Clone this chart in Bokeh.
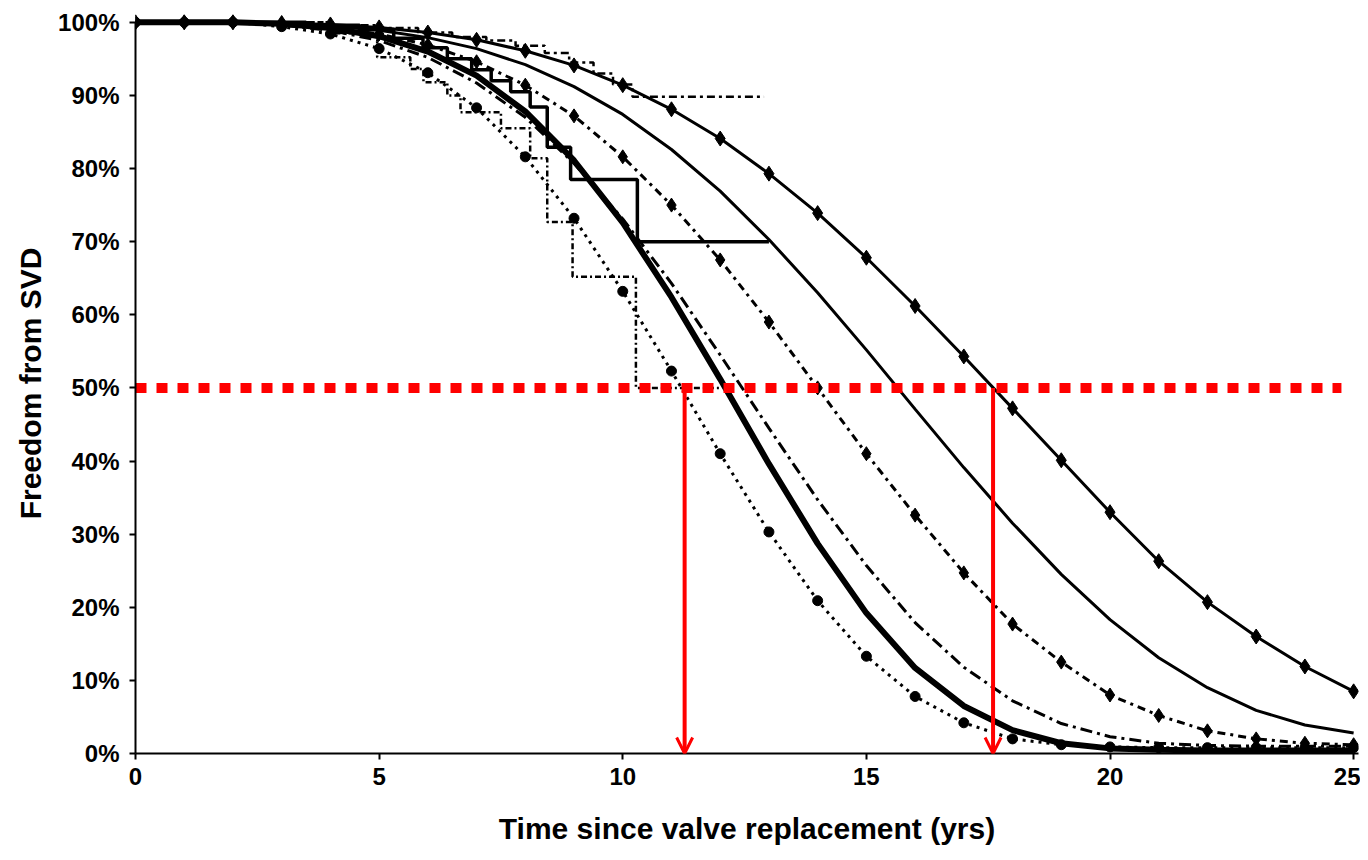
from bokeh.plotting import figure
from bokeh.models import Range1d, FixedTicker, PrintfTickFormatter, Arrow, OpenHead
from bokeh.embed import file_html
from bokeh.resources import INLINE

# ---------------- data ----------------
years = list(range(26))

# solid line with diamonds (median ~17.6 yrs)
curve_a = [100, 100, 100, 99.9, 99.7, 99.3, 98.6, 97.6, 96.1, 94.1, 91.4, 88.1, 84.1,
           79.3, 73.9, 67.8, 61.2, 54.3, 47.2, 40.1, 33.0, 26.3, 20.7, 16.0, 11.9, 8.5]
# solid line, no markers
curve_b = [100, 100, 100, 99.8, 99.5, 98.9, 97.9, 96.4, 94.2, 91.2, 87.4, 82.6, 76.9,
           70.3, 63.0, 55.2, 47.1, 39.1, 31.5, 24.5, 18.3, 13.1, 9.0, 5.9, 3.9, 2.8]
# dash-dot with diamonds
curve_c = [100, 100, 100, 99.8, 99.3, 98.4, 96.9, 94.6, 91.4, 87.2, 81.6, 75.0, 67.5,
           59.0, 50.0, 41.0, 32.6, 24.7, 17.7, 12.5, 8.0, 5.2, 3.1, 2.0, 1.4, 1.2]
# dash-dot, no markers
curve_d = [100, 100, 100, 99.6, 98.9, 97.5, 95.2, 91.7, 87.0, 80.7, 73.1, 64.3, 54.5,
           44.5, 34.7, 25.7, 17.9, 11.8, 7.2, 4.1, 2.3, 1.4, 1.1, 1.0, 1.0, 1.0]
# thick solid
curve_e = [100, 100, 100, 99.8, 99.2, 98.1, 96.0, 92.7, 87.8, 81.1, 72.6, 62.4, 51.2,
           39.6, 28.7, 19.2, 11.7, 6.5, 3.2, 1.4, 0.7, 0.5, 0.4, 0.4, 0.4, 0.4]
# dotted with round dots (median ~11.3 yrs)
curve_f = [100, 100, 100, 99.4, 98.4, 96.4, 93.1, 88.3, 81.6, 73.2, 63.2, 52.3, 41.0,
           30.3, 20.9, 13.3, 7.8, 4.2, 2.0, 1.2, 0.9, 0.8, 0.8, 0.8, 0.8, 0.8]

# Kaplan-Meier style step curves
step1_t = [0, 4.0, 5.0, 5.8, 6.5, 7.2, 7.8, 8.4, 8.9, 9.4, 9.8, 10.2, 12.9]
step1_s = [100, 99.6, 99.2, 98.6, 98.0, 97.5, 96.8, 95.8, 94.5, 93.0, 91.5, 89.8, 89.8]

step2_t = [0, 3.5, 4.6, 5.3, 5.9, 6.4, 6.9, 7.3, 7.7, 8.1, 8.45, 8.93, 10.3, 13.0]
step2_s = [100, 99.6, 99.0, 97.8, 96.5, 95.0, 93.5, 92.0, 90.5, 88.4, 82.9, 78.5, 70.0, 70.0]

step3_t = [0, 4.0, 4.96, 5.64, 5.91, 6.4, 6.67, 7.5, 8.1, 8.45, 8.97, 10.27, 12.0]
step3_s = [100, 98.5, 95.2, 93.6, 91.8, 90.0, 87.7, 85.5, 81.4, 72.7, 65.2, 50.0, 50.0]

# red reference markings
ref_level = 50
ref_line_x = [0, 24.75]
median_years = [11.27, 17.6]

x_ticks = [0, 5, 10, 15, 20, 25]
y_ticks = [0, 10, 20, 30, 40, 50, 60, 70, 80, 90, 100]

x_title = "Time since valve replacement (yrs)"
y_title = "Freedom from SVD"

# ---------------- figure ----------------
FONT = "Liberation Sans"

p = figure(frame_width=1223, frame_height=740,
           x_range=Range1d(0, 25.1), y_range=Range1d(0, 101.2),
           output_backend="svg", toolbar_location=None,
           min_border_left=135, min_border_right=2, min_border_top=13, min_border_bottom=96,
           background_fill_color="white", border_fill_color="white")
p.outline_line_color = None
p.grid.visible = False

for ax in (p.xaxis[0], p.yaxis[0]):
    ax.axis_line_color = "black"
    ax.axis_line_width = 2
    ax.major_tick_line_color = "black"
    ax.major_tick_line_width = 2
    ax.major_tick_out = 6
    ax.major_tick_in = 0
    ax.minor_tick_line_color = None
    ax.major_label_text_font = FONT
    ax.major_label_text_font_style = "bold"
    ax.major_label_text_font_size = "24px"
    ax.major_label_text_color = "black"
    ax.axis_label_text_font = FONT
    ax.axis_label_text_font_style = "bold"
    ax.axis_label_text_font_size = "30px"
    ax.axis_label_text_color = "black"

p.xaxis.axis_label = x_title
p.yaxis.axis_label = y_title
p.xaxis.axis_label_standoff = 24
p.yaxis.axis_label_standoff = 8

p.xaxis.ticker = FixedTicker(ticks=x_ticks)
p.yaxis.ticker = FixedTicker(ticks=y_ticks)
p.yaxis.formatter = PrintfTickFormatter(format="%d%%")
p.xaxis.major_label_standoff = 8
p.yaxis.major_label_standoff = 10
p.yaxis.bounds = (0, 100)
p.xaxis.bounds = (0, 25.1)

# smooth model curves
p.line(years, curve_b, line_color="black", line_width=3)
p.line(years, curve_a, line_color="black", line_width=3)
p.scatter(years, curve_a, marker="diamond", size=15, color="black")
p.line(years, curve_c, line_color="black", line_width=3, line_dash="8 5 3 5")
p.scatter(years, curve_c, marker="diamond", size=14, color="black")
p.line(years, curve_d, line_color="black", line_width=3, line_dash="12 5 3 5")
p.line(years, curve_e, line_color="black", line_width=6)
p.line(years, curve_f, line_color="black", line_width=3, line_dash="3 5")
p.scatter(years, curve_f, marker="circle", size=10, color="black")

# step curves
p.step(step1_t, step1_s, mode="after", line_color="black", line_width=2.5, line_dash="8 4 3 4")
p.step(step2_t, step2_s, mode="after", line_color="black", line_width=3.5)
p.step(step3_t, step3_s, mode="after", line_color="black", line_width=2.5, line_dash="6 3 2 3")

# red reference line and arrows
p.line(ref_line_x, [ref_level] * len(ref_line_x), line_color="#ff0000", line_width=10, line_dash="11 10")
for m in median_years:
    p.add_layout(Arrow(end=OpenHead(size=16, line_color="#ff0000", line_width=3),
                       x_start=m, y_start=ref_level, x_end=m, y_end=0,
                       line_color="#ff0000", line_width=4))

open("out.html", "w").write(file_html(p, INLINE))
